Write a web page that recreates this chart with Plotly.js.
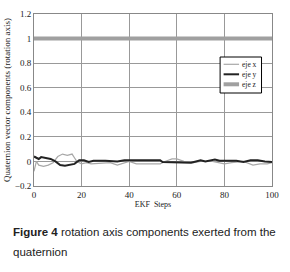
<!DOCTYPE html>
<html>
<head>
<meta charset="utf-8">
<script src="https://cdn.plot.ly/plotly-3.0.1.min.js"></script>
<style>
html,body{margin:0;padding:0;background:#fff;}
#chart{width:290px;height:272px;}
</style>
</head>
<body>
<div id="chart"></div>
<script>
var stepsX = [0,1,2,4,6,8,10,12,14,16,17,18,20,22,24,28,32,35,37,40,43,50,53,55,58,60,63,67,70,75,80,83,88,92,95,98,100];
var ejeX   = [-0.08,0.0,-0.03,-0.04,-0.03,-0.01,0.04,0.06,0.05,0.06,0.03,0.0,-0.02,-0.01,-0.02,-0.015,-0.01,-0.03,-0.02,0.0,-0.02,-0.02,-0.02,0.0,0.02,0.02,0.0,-0.01,0.0,0.0,-0.02,-0.01,0.0,-0.03,-0.02,-0.02,-0.01];
var stepsY = [0,2,3,5,7,9,11,13,15,17,19,21,23,25,30,35,38,45,53,54,60,66,70,72,76,78,85,88,91,94,97,100];
var ejeY   = [0.04,0.02,0.035,0.03,0.02,0.0,-0.03,-0.035,-0.03,-0.02,0.01,0.01,-0.005,0.005,0.005,0.0,0.01,0.01,0.01,-0.005,-0.005,-0.01,0.01,0.0,0.015,0.005,0.005,-0.005,0.01,0.01,0.0,-0.005];
var stepsZ = [0,100];
var ejeZ   = [1,1];
var names  = ['eje x','eje y','eje z'];

var serif = 'Liberation Serif, Times New Roman, serif';
var colors = ['#a8a8a8','#222222','#a0a0a0'];
var widths = [1.2,2,4];
var traces = [
  {x: stepsX, y: ejeX, name: names[0], mode:'lines', line:{color:colors[0], width:widths[0]}},
  {x: stepsY, y: ejeY, name: names[1], mode:'lines', line:{color:colors[1], width:widths[1]}},
  {x: stepsZ, y: ejeZ, name: names[2], mode:'lines', line:{color:colors[2], width:widths[2]}}
];

// legend geometry (pixels -> paper)
var L = 33.5, W = 238.5, B = 186, H = 172;
function px(v){ return (v - L) / W; }
function py(v){ return (B - v) / H; }
var shapes = [{type:'rect', xref:'paper', yref:'paper', x0:px(220), x1:px(261.5), y0:py(93), y1:py(57),
               line:{color:'#000', width:1}, fillcolor:'#fff', layer:'above'}];
var annotations = [];
var rowY = [64.3, 74.3, 84.3];
for (var i = 0; i < names.length; i++) {
  shapes.push({type:'line', xref:'paper', yref:'paper', x0:px(223.5), x1:px(239), y0:py(rowY[i]), y1:py(rowY[i]),
               line:{color:colors[i], width:widths[i]}, layer:'above'});
  annotations.push({xref:'paper', yref:'paper', x:px(240), y:py(rowY[i]), xanchor:'left', yanchor:'middle',
                    showarrow:false, text:names[i], font:{family:serif, size:7.5, color:'#222'}});
}
annotations.push({
  xref:'paper', yref:'paper', x:px(10), y:py(232), xanchor:'left', yanchor:'middle', align:'left',
  showarrow:false,
  text:'<b>Figure 4</b> rotation axis components exerted from the',
  font:{family:'Liberation Sans, Arial, sans-serif', size:11.5, color:'#222'}
});
annotations.push({
  xref:'paper', yref:'paper', x:px(10), y:py(252), xanchor:'left', yanchor:'middle', align:'left',
  showarrow:false,
  text:'quaternion',
  font:{family:'Liberation Sans, Arial, sans-serif', size:11.5, color:'#222'}
});

var layout = {
  width:290, height:272,
  margin:{l:33.5, r:18, t:14, b:86},
  paper_bgcolor:'#fff', plot_bgcolor:'#fff',
  showlegend:false,
  font:{family:serif, size:9, color:'#222'},
  xaxis:{range:[0,100], dtick:20, tick0:0, showgrid:true, gridcolor:'#999', gridwidth:1,
         zeroline:false, showline:true, linecolor:'#888', mirror:true,
         ticks:'',
         tickfont:{family:serif, size:9, color:'#222'},
         title:{text:'EKF  Steps', font:{family:serif, size:8, color:'#222'}, standoff:2}},
  yaxis:{range:[-0.2,1.2], dtick:0.2, tick0:0, showgrid:true, gridcolor:'#999', gridwidth:1,
         zeroline:false, showline:true, linecolor:'#888', mirror:true,
         ticks:'',
         tickfont:{family:serif, size:9, color:'#222'},
         title:{text:'Quaternion vector components (rotation axis)', font:{family:serif, size:9, color:'#222'}, standoff:2}},
  shapes: shapes,
  annotations: annotations
};
Plotly.newPlot('chart', traces, layout, {displayModeBar:false, staticPlot:true});
</script>
</body>
</html>
